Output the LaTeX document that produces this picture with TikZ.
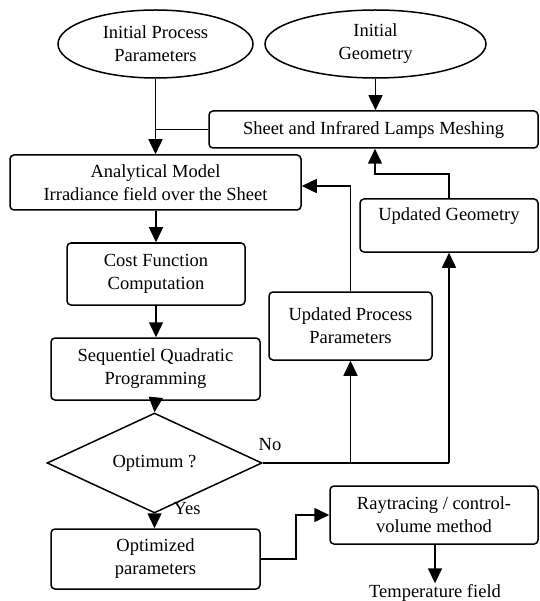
\documentclass[tikz,border=0pt]{standalone}
\usepackage{fontspec}
\setmainfont{Liberation Serif}
\usepackage{tikz}
\usetikzlibrary{shapes.geometric,arrows.meta}

\begin{document}
\begin{tikzpicture}[x=1pt, y=-1pt,
    every node/.style={font=\fontsize{18.5}{23}\selectfont, align=center},
    box/.style={draw, line width=1.5pt, rounded corners=4pt, inner sep=2pt},
    start/.style={draw, ellipse, line width=1.5pt, inner sep=0pt},
    test/.style={draw, diamond, line width=1.5pt, inner sep=0pt},
    link/.style={line width=1.5pt},
    arr/.style={line width=1.5pt, -{Triangle[length=15pt,width=14pt]}}]
    \useasboundingbox (0,0) rectangle (539,601);

    % Inputs
    \node[start, minimum width=195pt, minimum height=68pt] (initpar) at (155.5,44) {Initial Process\\Parameters};
    \node[start, minimum width=221pt, minimum height=68pt] (initgeo) at (375.5,44) {Initial\\Geometry};
    \node[box, minimum width=329pt, minimum height=37pt] (mesh) at (373.5,129.5) {Sheet and Infrared Lamps Meshing};

    % Optimisation loop
    \node[box, minimum width=291pt, minimum height=55pt] (model) at (155.5,182.5) {Analytical Model\\Irradiance field over the Sheet};
    \node[box, minimum width=178pt, minimum height=62pt] (cost) at (156,274) {Cost Function\\Computation};
    \node[box, minimum width=209pt, minimum height=62pt] (sqp) at (155.5,369) {Sequentiel Quadratic\\Programming};
    \node[test, minimum width=215pt, minimum height=74pt] (optq) at (154.5,463) {Optimum ?};
    \node[box, minimum width=209pt, minimum height=60pt] (optpar) at (155.5,559) {Optimized\\parameters};

    % Updates
    \node[box, minimum width=163pt, minimum height=68pt] (updpar) at (350.5,326) {Updated Process\\Parameters};
    \node[box, minimum width=178pt, minimum height=53pt] (updgeo) at (449,225.5) {Updated Geometry\\\mbox{}};

    % Thermal computation
    \node[box, minimum width=208pt, minimum height=58pt] (raytr) at (434,515) {Raytracing / control-\\volume method};
    \node[inner sep=1pt] (temp) at (435,593) {Temperature field};

    % Connectors
    \coordinate (join) at (initpar.south |- mesh.west);
    \coordinate (bend) at (375,174);
    \draw[arr] (initpar.south) -- (initpar.south |- model.north);
    \draw[link] (mesh.west) -- (join);
    \draw[arr] (initgeo.south) -- (initgeo.south |- mesh.north);
    \draw[arr] (model.south -| cost.north) -- (cost.north);
    \draw[arr] (cost.south) -- (cost.south |- sqp.north);
    \draw[arr] (sqp.south) -- (optq.north);
    \draw[arr] (optq.south) -- (optq.south |- optpar.north);
    \draw[link] (optq.east) -- (optq.east -| updgeo.south);
    \draw[arr] (optq.east -| updpar.south) -- (updpar.south);
    \draw[arr] (optq.east -| updgeo.south) -- (updgeo.south);
    \draw[arr] (updpar.north) |- ([yshift=-3.5pt]model.east);
    \draw[arr] (updgeo.north) |- (bend) -- (bend |- mesh.south);
    \draw[arr] (optpar.east) -- ++(35,0) |- (raytr.west);
    \draw[arr] (raytr.south -| temp.north) -- (temp.north);

    % Labels
    \node (no) at (270,445) {No};
    \node (yes) at (187,509) {Yes};
\end{tikzpicture}
\end{document}
